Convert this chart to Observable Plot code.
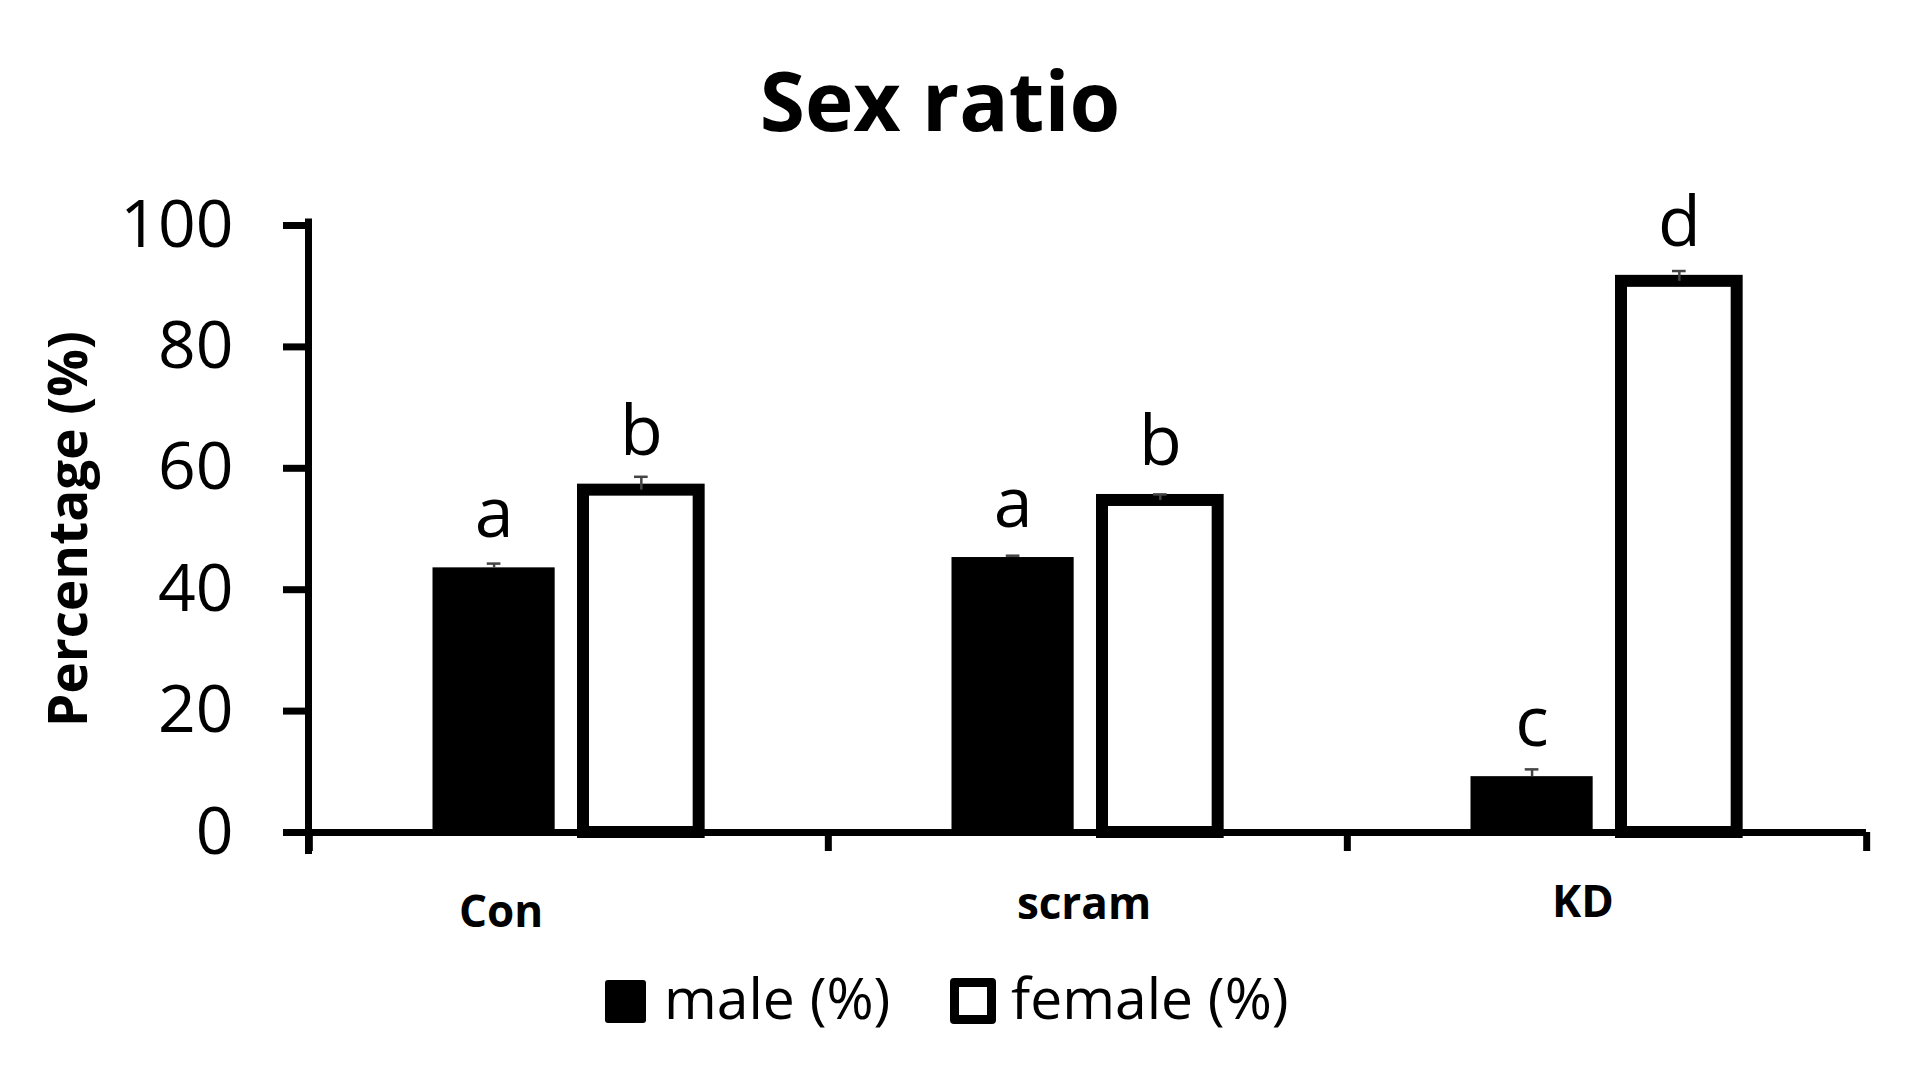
<!DOCTYPE html>
<html>
<head>
<meta charset="utf-8">
<script src="https://cdn.jsdelivr.net/npm/d3@7"></script>
<script src="https://cdn.jsdelivr.net/npm/@observablehq/plot@0.6"></script>
<style>
  html, body { margin: 0; padding: 0; background: #fff; }
  #page { position: relative; width: 1910px; height: 1070px; background: #fff; font-family: "Open Sans", sans-serif; color: #000; }
  #title { position: absolute; left: 0; width: 1880px; top: 58px; text-align: center; font-size: 82px; font-weight: 700; line-height: 1; }
  #chart { position: absolute; left: 0; top: 150px; }
  .lg-text { position: absolute; font-size: 57px; line-height: 1; top: 969px; white-space: nowrap; }
  .sw { position: absolute; box-sizing: border-box; }
</style>
</head>
<body>
<div id="page">
  <div id="title">Sex ratio</div>
  <div id="chart"></div>
  <div class="sw" style="left:605px; top:980px; width:41px; height:43px; background:#000; border-radius:3px;"></div>
  <div class="lg-text" style="left:664px;">male (%)</div>
  <div class="sw" style="left:950px; top:978px; width:46px; height:46px; background:#fff; border:9px solid #000; border-radius:4px;"></div>
  <div class="lg-text" style="left:1011px;">female (%)</div>
</div>
<script>
// ---- data ----
const categories = ["Con", "scram", "KD"];
const male = [43.6, 45.3, 9.2];
const female = [56.4, 54.7, 90.8];
const maleErr = [0.7, 0.3, 1.2];
const femaleErr = [2.2, 1.0, 1.7];
const maleLetters = ["a", "a", "c"];
const femaleLetters = ["b", "b", "d"];
const yTicks = [0, 20, 40, 60, 80, 100];

// ---- layout ----
const W = 1910, H = 800;
const mL = 308, mR = 44, mT = 75, mB = 118;
const bw = (W - mL - mR) / 3;
const mLeft = 123.5, mRight = 246;     // male bar within band
const fLeft = 274, fRight = 390;       // female bar (stroke centre) within band
const mc = (mLeft + mRight) / 2, fc = (fLeft + fRight) / 2;
const capHalf = 7;
const labelNudge = {Con: [-68, 94], scram: [-4, 86], KD: [-24, 84]};

const rows = categories.map((c, i) => ({
  cat: c, male: male[i], female: female[i],
  maleErr: maleErr[i], femaleErr: femaleErr[i],
  ml: maleLetters[i], fl: femaleLetters[i]
}));

const errStroke = "#444";

const chart = Plot.plot({
  width: W, height: H,
  marginLeft: mL, marginRight: mR, marginTop: mT, marginBottom: mB,
  style: {fontFamily: "Open Sans, sans-serif", background: "#fff", color: "#000", overflow: "visible"},
  x: {type: "band", domain: categories, padding: 0, axis: null},
  y: {domain: [0, 100], axis: null},
  marks: [
    // bars
    Plot.barY(rows, {x: "cat", y: "male", fill: "#000", insetLeft: mLeft, insetRight: bw - mRight}),
    Plot.barY(rows, {x: "cat", y: "female", fill: "#fff", stroke: "#000", strokeWidth: 12,
      insetLeft: fLeft, insetRight: bw - fRight}),
    // error bars (upper)
    Plot.ruleX(rows, {x: "cat", y1: "male", y2: d => d.male + d.maleErr, dx: mc - bw / 2, stroke: errStroke, strokeWidth: 2.5}),
    Plot.tickY(rows, {x: "cat", y: d => d.male + d.maleErr, insetLeft: mc - capHalf, insetRight: bw - mc - capHalf, stroke: errStroke, strokeWidth: 2.5}),
    Plot.ruleX(rows, {x: "cat", y1: "female", y2: d => d.female + d.femaleErr, dx: fc - bw / 2, stroke: errStroke, strokeWidth: 2.5}),
    Plot.tickY(rows, {x: "cat", y: d => d.female + d.femaleErr, insetLeft: fc - capHalf, insetRight: bw - fc - capHalf, stroke: errStroke, strokeWidth: 2.5}),
    // significance letters
    Plot.text(rows, {x: "cat", y: "male", text: "ml", dx: mc - bw / 2, dy: -31, lineAnchor: "bottom", fontSize: 70, fill: "#000"}),
    Plot.text(rows, {x: "cat", y: "female", text: "fl", dx: fc - bw / 2, dy: -35, lineAnchor: "bottom", fontSize: 70, fill: "#000"}),
    // x axis line and boundary ticks
    Plot.ruleY([0], {stroke: "#000", strokeWidth: 7}),
    Plot.ruleX(categories, {x: d => d, dx: -bw / 2, y1: 0, y2: 0, insetBottom: -19, stroke: "#000", strokeWidth: 7}),
    Plot.ruleX(categories.slice(-1), {x: d => d, dx: bw / 2, y1: 0, y2: 0, insetBottom: -19, stroke: "#000", strokeWidth: 7}),
    // y axis
    Plot.frame({anchor: "left", stroke: "#000", strokeWidth: 7, insetTop: -3.5, insetBottom: -18}),
    Plot.axisY({ticks: yTicks, tickSize: 25, tickPadding: 50, strokeWidth: 7, fontSize: 66, label: null, tickFormat: d => String(d)}),
    Plot.text(["Percentage (%)"], {frameAnchor: "left", dx: -222, rotate: -90, text: d => d,
      fontWeight: "bold", fontSize: 53, lineAnchor: "bottom", textAnchor: "middle", fill: "#000"}),
    // category labels
    ...categories.map(c => Plot.text([c], {x: d => d, y: 0, text: d => d,
      dx: labelNudge[c][0], dy: labelNudge[c][1], lineAnchor: "bottom",
      fontWeight: "bold", fontSize: 44, fill: "#000"}))
  ]
});
document.getElementById("chart").appendChild(chart);
</script>
</body>
</html>
